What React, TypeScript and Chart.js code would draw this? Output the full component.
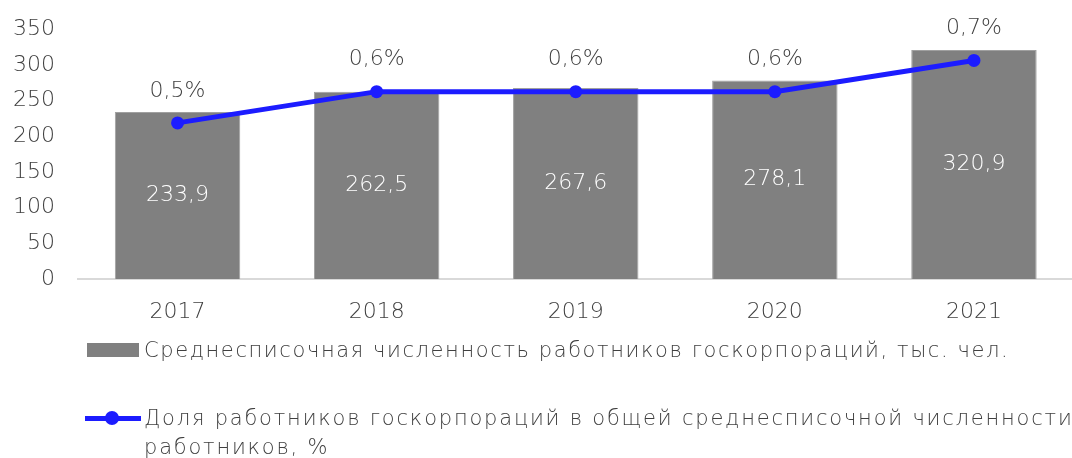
import React, { useEffect, useRef } from 'react';
import { Chart, registerables } from 'chart.js';

Chart.register(...registerables);

const categories = ['2017', '2018', '2019', '2020', '2021'];
const headcount = [233.9, 262.5, 267.6, 278.1, 320.9];
const sharePct = [0.5, 0.6, 0.6, 0.6, 0.7];
const yMax = 350;
const yStep = 50;
const shareAxisMax = 0.8;
const barSeriesName = 'Среднесписочная численность работников госкорпораций, тыс. чел.';
const lineSeriesName = ['Доля работников госкорпораций в общей среднесписочной численности', 'работников, %'];

const FONT = "'DejaVu Sans', sans-serif";
const TEXT = '#404040';
const BLUE = '#1c1cff';
const GREY = '#808080';
const fmt = (v: number) => v.toFixed(1).replace('.', ',');

const valueLabels = {
  id: 'valueLabels',
  afterDatasetsDraw(chart: any) {
    const ctx = chart.ctx;
    ctx.save();
    ctx.font = `300 22px ${FONT}`;
    ctx.textAlign = 'center';
    ctx.textBaseline = 'middle';
    const barMeta = chart.getDatasetMeta(1);
    barMeta.data.forEach((el: any, i: number) => {
      ctx.fillStyle = '#ffffff';
      ctx.fillText(fmt(headcount[i]), el.x, (el.y + el.base) / 2);
    });
    const lineMeta = chart.getDatasetMeta(0);
    lineMeta.data.forEach((el: any, i: number) => {
      ctx.fillStyle = TEXT;
      ctx.fillText(fmt(sharePct[i]) + '%', el.x, el.y - 32);
    });
    ctx.restore();
  },
};

export default function App() {
  const ref = useRef<HTMLCanvasElement>(null);
  useEffect(() => {
    if (!ref.current) return;
    const chart = new Chart(ref.current, {
      type: 'bar',
      data: {
        labels: categories,
        datasets: [
          {
            type: 'line',
            label: lineSeriesName.join(' '),
            data: sharePct,
            yAxisID: 'y1',
            borderColor: BLUE,
            backgroundColor: BLUE,
            borderWidth: 5,
            pointRadius: 6.5,
            pointBackgroundColor: BLUE,
            pointBorderWidth: 0,
            tension: 0,
            order: 0,
          } as any,
          {
            type: 'bar',
            label: barSeriesName,
            data: headcount,
            yAxisID: 'y',
            backgroundColor: GREY,
            borderColor: '#a0a0a0',
            borderWidth: 1,
            categoryPercentage: 1,
            barPercentage: 0.63,
            order: 1,
          },
        ],
      },
      options: {
        responsive: false,
        animation: false,
        devicePixelRatio: 1,
        layout: { padding: { left: 8, right: 2, top: 20, bottom: 129 } },
        plugins: { legend: { display: false }, tooltip: { enabled: false } },
        scales: {
          x: {
            grid: { display: false, drawTicks: false },
            border: { display: true, color: '#d9d9d9', width: 2 },
            ticks: { color: TEXT, font: { family: FONT, size: 22, weight: '300' as any }, padding: 20 },
            afterFit: (s: any) => { s.height = 50; },
          },
          y: {
            min: 0,
            max: yMax,
            grid: { display: false, drawTicks: false },
            border: { display: false },
            ticks: { stepSize: yStep, color: TEXT, font: { family: FONT, size: 22, weight: '300' as any }, padding: 23 },
            afterFit: (s: any) => { s.width = 70; },
          },
          y1: {
            display: false,
            min: 0,
            max: shareAxisMax,
          },
        },
      },
      plugins: [valueLabels],
    });
    return () => chart.destroy();
  }, []);

  const legendText: React.CSSProperties = {
    position: 'absolute',
    left: 144,
    fontFamily: FONT,
    fontWeight: 300,
    fontSize: 21,
    letterSpacing: '1.6px',
    color: TEXT,
    lineHeight: '29px',
    whiteSpace: 'nowrap',
  };

  return (
    <div style={{ position: 'fixed', left: 0, top: 0, width: 1072, height: 458, overflow: 'hidden', background: '#fff' }}>
      <canvas ref={ref} width={1080} height={465} style={{ position: 'absolute', left: 0, top: -7 }} />
      <div style={{ position: 'absolute', left: 87, top: 343, width: 52, height: 14, background: GREY }} />
      <div style={{ ...legendText, top: 336 }}>{barSeriesName}</div>
      <div style={{ position: 'absolute', left: 85, top: 416, width: 56, height: 5, background: BLUE }} />
      <div style={{ position: 'absolute', left: 105, top: 411, width: 14, height: 14, borderRadius: 7, background: BLUE }} />
      <div style={{ ...legendText, top: 404, letterSpacing: '1.8px' }}>
        {lineSeriesName[0]}
        <br />
        {lineSeriesName[1]}
      </div>
    </div>
  );
}
